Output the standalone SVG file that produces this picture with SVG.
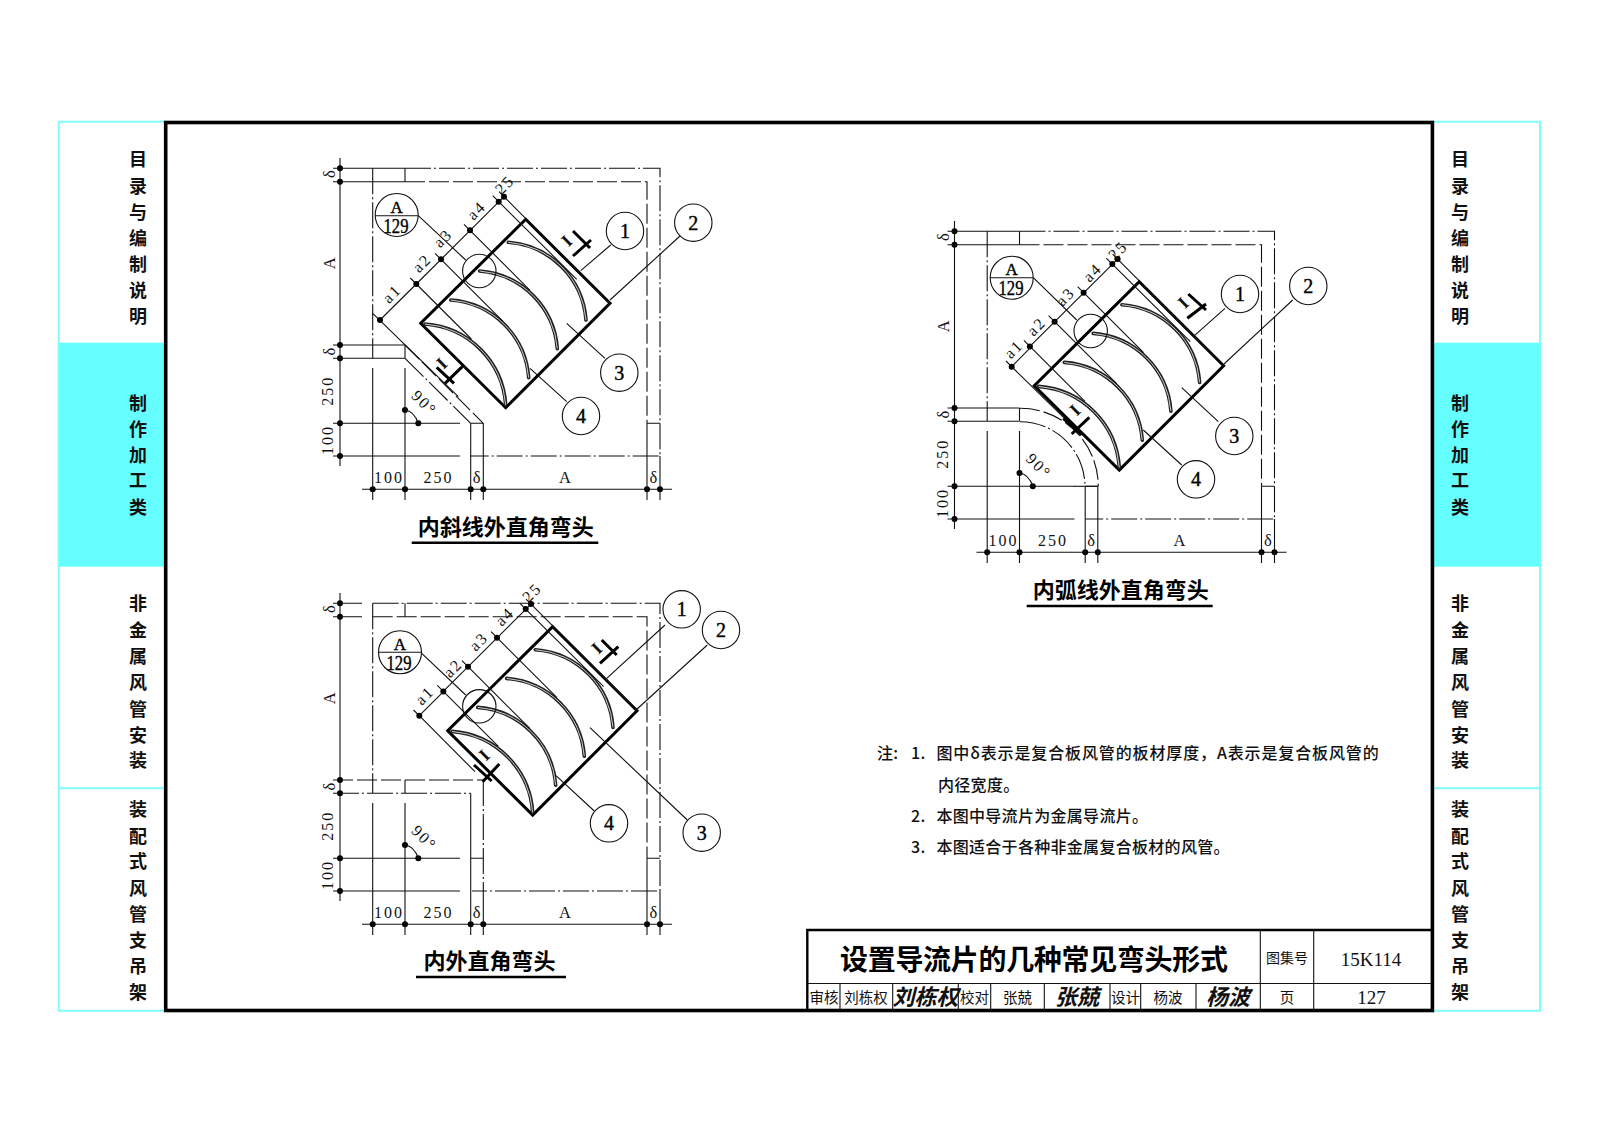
<svg xmlns="http://www.w3.org/2000/svg" xmlns:xlink="http://www.w3.org/1999/xlink" width="1600" height="1132" viewBox="0 0 1600 1132">
<style>
.s{fill:none;stroke:#111;stroke-width:1.1}
.dd{fill:none;stroke:#111;stroke-width:1.1;stroke-dasharray:26 3 2 3}
.da{fill:none;stroke:#111;stroke-width:1.1;stroke-dasharray:20 4}
.box{fill:none;stroke:#000;stroke-width:3}
.sec{fill:none;stroke:#000;stroke-width:3}
.b1{fill:none;stroke:#222;stroke-width:3.6;stroke-linecap:round}
.b2{fill:none;stroke:#ccc;stroke-width:1}
.bal{fill:#fff;stroke:#111;stroke-width:1.1}
.dot{fill:#000}
.side{font:bold 18px "Noto Sans CJK SC",sans-serif;text-anchor:middle;fill:#111}
.num{font:16px "Liberation Serif",serif;letter-spacing:2px;text-anchor:middle;fill:#111}
.sy{font:16.5px "Liberation Serif",serif;text-anchor:middle;fill:#111}
.ii{font:bold 18px "Liberation Serif",serif;text-anchor:middle;fill:#111}
.bn{font:20px "Liberation Serif",serif;text-anchor:middle;fill:#000;stroke:#000;stroke-width:.4}
.cap{font:bold 22px "Noto Sans CJK SC",sans-serif;text-anchor:middle;fill:#000}
.note{font:500 16px "Noto Sans CJK SC",sans-serif;fill:#111;letter-spacing:.3px}
.cell{font:14.5px "Noto Sans CJK SC",sans-serif;text-anchor:middle;fill:#111}
.sig{font:italic bold 22px "Noto Sans CJK SC",sans-serif;text-anchor:middle;fill:#111}
.tb{font:19px "Liberation Serif",serif;text-anchor:middle;fill:#111}
.cy{fill:none;stroke:#7ffcfc;stroke-width:2}
</style>
<defs>
<circle id="d" class="dot" r="3"/>
<g id="elbow">
<path class="box" d="M0 0L84.3 84L-20 188.4L-105 104Z"/>
<path class="b1" d="M-17.4 23A84 84 0 0 1 60.3 100.7M-46.1 51.7A84 84 0 0 1 31.6 129.4M-75 80.7A84 84 0 0 1 3 158.4M-100.7 104.7A87 87 0 0 1 -20 185.7"/>
<path class="b2" d="M-17.4 23A84 84 0 0 1 60.3 100.7M-46.1 51.7A84 84 0 0 1 31.6 129.4M-75 80.7A84 84 0 0 1 3 158.4M-100.7 104.7A87 87 0 0 1 -20 185.7"/>
<path class="s" d="M-21.7 -22.6L84.3 84M-27 -17.6L51 60M-55.7 11L4.3 71M-84.7 40L-22.7 102M-109.4 64.7L-54.4 119.7M-115.4 58.7L-109.4 64.7M-90.7 34L-84.7 40M-61.7 5L-55.7 11M-33 -23.6L-27 -17.6M-26.7 -27.6L-21.7 -22.6M-109.4 64.7L-21.7 -22.6"/>
<use xlink:href="#d" x="-109.4" y="64.7"/><use xlink:href="#d" x="-84.7" y="40"/><use xlink:href="#d" x="-55.7" y="11"/><use xlink:href="#d" x="-27" y="-17.6"/><use xlink:href="#d" x="-21.7" y="-22.6"/>
</g>
<g id="dims">
<path class="s" d="M340 158V466M362 489.3H672"/>
<use xlink:href="#d" x="340" y="168.3"/><use xlink:href="#d" x="340" y="181.7"/><use xlink:href="#d" x="340" y="345"/><use xlink:href="#d" x="340" y="358.3"/><use xlink:href="#d" x="340" y="423.3"/><use xlink:href="#d" x="340" y="456"/>
<use xlink:href="#d" x="372.7" y="489.3"/><use xlink:href="#d" x="405" y="489.3"/><use xlink:href="#d" x="470.7" y="489.3"/><use xlink:href="#d" x="483.3" y="489.3"/><use xlink:href="#d" x="647" y="489.3"/><use xlink:href="#d" x="660" y="489.3"/>
<use xlink:href="#d" x="405" y="410"/><use xlink:href="#d" x="418.3" y="423.3"/>
<path class="s" d="M405 410Q414 411 418.3 423.3"/>
</g>
<g id="ductA">
<path class="s" d="M333 168.3H405M333 181.7H405M405 168.3V181.7M333 345H405M333 358.3H405M405 345V358.3M405 368V500M372.7 368V500M333 423.3H460M333 456H460M470.7 423.3H483.3M470.7 423.3V500M483.3 423.3V500M647 423.3H660M647 423.3V500M660 456V500M372.7 345V358.3"/>
<path class="dd" d="M405 168.3H660V456H470.7M372.7 168.3V345"/>
<path class="da" d="M405 181.7H647V423.3"/>
</g>
</defs>
<rect width="1600" height="1132" fill="#fff"/>
<g id="frame">
<rect x="58.7" y="342.7" width="107" height="224" fill="#66ffff"/>
<rect x="1432.7" y="342.7" width="107.3" height="224" fill="#66ffff"/>
<path class="cy" d="M58.7 121.7H166V1010.7H58.7ZM58.7 788.3H166M1432 121.7H1540V1010.7H1432ZM1432 788.3H1540"/>
<rect x="165.7" y="122.5" width="1266.7" height="888" fill="none" stroke="#000" stroke-width="3.6"/>
</g>
<g id="side-left">
<text class="side" x="138" y="166">目</text><text class="side" x="138" y="193">录</text><text class="side" x="138" y="219">与</text><text class="side" x="138" y="245">编</text><text class="side" x="138" y="271">制</text><text class="side" x="138" y="297">说</text><text class="side" x="138" y="323">明</text>
<text class="side" x="138" y="410">制</text><text class="side" x="138" y="436">作</text><text class="side" x="138" y="462">加</text><text class="side" x="138" y="487">工</text><text class="side" x="138" y="514">类</text>
<text class="side" x="138" y="610">非</text><text class="side" x="138" y="637">金</text><text class="side" x="138" y="663">属</text><text class="side" x="138" y="689">风</text><text class="side" x="138" y="716">管</text><text class="side" x="138" y="742">安</text><text class="side" x="138" y="767">装</text>
<text class="side" x="138" y="816">装</text><text class="side" x="138" y="843">配</text><text class="side" x="138" y="868">式</text><text class="side" x="138" y="895">风</text><text class="side" x="138" y="921">管</text><text class="side" x="138" y="947">支</text><text class="side" x="138" y="973">吊</text><text class="side" x="138" y="999">架</text>
</g>
<g id="side-right">
<text class="side" x="1460" y="166">目</text><text class="side" x="1460" y="193">录</text><text class="side" x="1460" y="219">与</text><text class="side" x="1460" y="245">编</text><text class="side" x="1460" y="271">制</text><text class="side" x="1460" y="297">说</text><text class="side" x="1460" y="323">明</text>
<text class="side" x="1460" y="410">制</text><text class="side" x="1460" y="436">作</text><text class="side" x="1460" y="462">加</text><text class="side" x="1460" y="487">工</text><text class="side" x="1460" y="514">类</text>
<text class="side" x="1460" y="610">非</text><text class="side" x="1460" y="637">金</text><text class="side" x="1460" y="663">属</text><text class="side" x="1460" y="689">风</text><text class="side" x="1460" y="716">管</text><text class="side" x="1460" y="742">安</text><text class="side" x="1460" y="767">装</text>
<text class="side" x="1460" y="816">装</text><text class="side" x="1460" y="843">配</text><text class="side" x="1460" y="868">式</text><text class="side" x="1460" y="895">风</text><text class="side" x="1460" y="921">管</text><text class="side" x="1460" y="947">支</text><text class="side" x="1460" y="973">吊</text><text class="side" x="1460" y="999">架</text>
</g>

<g id="diagram1">
<use xlink:href="#dims"/><use xlink:href="#ductA"/>
<path class="da" d="M405 345L483.3 423.3"/><path class="dd" d="M405 358.3L470.7 423.3"/>
<use xlink:href="#elbow" x="525.7" y="219.3"/>
<path class="s" d="M372.7 313.3L458.3 396.7M416.3 284L380 320"/><use xlink:href="#d" x="380" y="320"/>
<path class="sec" d="M573 231L590 248M573 256L591 240M436.7 367.3L454 383.3M445 383.3L462.3 366.7"/>
<circle class="s" cx="479.3" cy="271" r="16.7"/>
<path class="s" d="M418.3 215.7L465.7 260M610.7 245L580.7 270.7M680 236L610 300M605 358.3L566.7 323.3M566.7 401.7L530 368.3"/>
<g id="d1-ref"><circle class="bal" cx="396.7" cy="215" r="21.5"/><path class="s" d="M375.2 215.7H418.2"/><text class="bn" style="font-size:17px" x="396.7" y="213">A</text><text class="bn" style="font-size:20px" x="396" y="232.5" textLength="25" lengthAdjust="spacingAndGlyphs">129</text></g>
<g id="d1-n1"><circle class="bal" cx="625" cy="231" r="18.7"/><text class="bn" x="625" y="238">1</text></g>
<g id="d1-n2"><circle class="bal" cx="693.3" cy="222.7" r="18.7"/><text class="bn" x="693.3" y="229.7">2</text></g>
<g id="d1-n3"><circle class="bal" cx="619.3" cy="372.7" r="18.7"/><text class="bn" x="619.3" y="379.7">3</text></g>
<g id="d1-n4"><circle class="bal" cx="581" cy="416" r="18.7"/><text class="bn" x="581" y="423">4</text></g>
<g class="lbl">
<text class="num" transform="translate(392.3,294) rotate(-45)" y="5">a1</text><text class="num" transform="translate(422.3,263.3) rotate(-45)" y="5">a2</text><text class="num" transform="translate(443.3,238.3) rotate(-45)" y="5">a3</text><text class="num" transform="translate(476.7,210.7) rotate(-45)" y="5">a4</text><text class="num" transform="translate(505,185) rotate(-45)" y="5">25</text>
<text class="ii" transform="translate(566.7,240.7) rotate(-45)" y="6">I</text><text class="ii" transform="translate(441.7,363.3) rotate(-45)" y="6">I</text>
<text class="num" transform="translate(424,403.3) rotate(45)" y="5">90°</text>
<text class="sy" transform="translate(331.7,174) rotate(-90)" y="3">δ</text><text class="sy" transform="translate(331.7,263.3) rotate(-90)" y="3">A</text><text class="sy" transform="translate(331.7,351.7) rotate(-90)" y="3">δ</text><text class="num" transform="translate(330,390.7) rotate(-90)" y="3">250</text><text class="num" transform="translate(330,440) rotate(-90)" y="3">100</text>
<text class="num" x="389" y="483">100</text><text class="num" x="438.5" y="483">250</text><text class="sy" x="476.7" y="483">δ</text><text class="sy" x="565" y="483">A</text><text class="sy" x="653.3" y="483">δ</text>
</g>
<text class="cap" x="505.7" y="534.5">内斜线外直角弯头</text><path d="M411.7 542.7H598.3" stroke="#000" stroke-width="2.4"/>
</g>

<g id="diagram2">
<g transform="translate(614.5,63)"><use xlink:href="#dims"/><use xlink:href="#ductA"/></g>
<path class="s" d="M1074 486.3H1098.3"/>
<path class="da" d="M1020 408.3A78 78 0 0 1 1098.3 486"/><path class="dd" d="M1020 421.7A65 65 0 0 1 1085 486"/>
<use xlink:href="#elbow" x="1139.3" y="281.7"/>
<path class="s" d="M1011.7 366.7L1073 426.7M1030.7 347.3L1011.7 366.7M1006 361L1011.7 366.7"/><use xlink:href="#d" x="1011.7" y="366.7"/>
<path class="sec" d="M1188.3 294L1206 310M1187.3 318.3L1206 304M1063.3 418.3L1081.7 435M1071.7 434L1089.3 417.3"/>
<circle class="s" cx="1090.7" cy="331" r="16.7"/>
<path class="s" d="M1033.3 277.7L1076.7 320M1225 308.3L1193.3 336.7M1292.7 300L1224 364M1218.3 421.7L1181.7 387.7M1181.7 465L1143.3 430"/>
<g id="d2-ref"><circle class="bal" cx="1011.7" cy="277.7" r="21.5"/><path class="s" d="M990.2 277.7H1033.2"/><text class="bn" style="font-size:17px" x="1011.7" y="275">A</text><text class="bn" style="font-size:20px" x="1011" y="295" textLength="25" lengthAdjust="spacingAndGlyphs">129</text></g>
<g id="d2-n1"><circle class="bal" cx="1240" cy="294" r="18.7"/><text class="bn" x="1240" y="301">1</text></g>
<g id="d2-n2"><circle class="bal" cx="1308.3" cy="286" r="18.7"/><text class="bn" x="1308.3" y="293">2</text></g>
<g id="d2-n3"><circle class="bal" cx="1234.3" cy="436" r="18.7"/><text class="bn" x="1234.3" y="443">3</text></g>
<g id="d2-n4"><circle class="bal" cx="1196" cy="479.3" r="18.7"/><text class="bn" x="1196" y="486.3">4</text></g>
<g class="lbl">
<text class="num" transform="translate(1014,349.3) rotate(-45)" y="5">a1</text><text class="num" transform="translate(1036.7,326.7) rotate(-45)" y="5">a2</text><text class="num" transform="translate(1065.7,296.7) rotate(-45)" y="5">a3</text><text class="num" transform="translate(1092.7,272.7) rotate(-45)" y="5">a4</text><text class="num" transform="translate(1118.3,250.7) rotate(-45)" y="5">25</text>
<text class="ii" transform="translate(1183.3,302.7) rotate(-45)" y="6">I</text><text class="ii" transform="translate(1075,410) rotate(-45)" y="6">I</text>
<text class="num" transform="translate(1038.5,466.3) rotate(45)" y="5">90°</text>
<text class="sy" transform="translate(946.2,237) rotate(-90)" y="3">δ</text><text class="sy" transform="translate(946.2,326.3) rotate(-90)" y="3">A</text><text class="sy" transform="translate(946.2,414.7) rotate(-90)" y="3">δ</text><text class="num" transform="translate(944.5,453.7) rotate(-90)" y="3">250</text><text class="num" transform="translate(944.5,503) rotate(-90)" y="3">100</text>
<text class="num" x="1003.5" y="546">100</text><text class="num" x="1053" y="546">250</text><text class="sy" x="1091.2" y="546">δ</text><text class="sy" x="1179.5" y="546">A</text><text class="sy" x="1267.8" y="546">δ</text>
</g>
<text class="cap" x="1120.8" y="597.8">内弧线外直角弯头</text><path d="M1026.7 606H1212.7" stroke="#000" stroke-width="2.4"/>
</g>

<g id="diagram3">
<g transform="translate(0,435)">
<use xlink:href="#dims"/>
<path class="s" d="M333 168.3H362M333 181.7H362M405 168.3V181.7M405 345V358.3M405 368V500M372.7 368V500M470.7 358.3V500M470.7 423.3H483.3M333 423.3H460M333 456H460M483.3 456V500M647 423.3H660M647 423.3V500M660 456V500"/>
<path class="dd" d="M372.7 168.3H660V456H472M372.7 168.3V358.3M333 358.3H470.7M483.3 345V456"/>
<path class="da" d="M372.7 181.7H647V423.3M333 345H483.3"/>
</g>
<use xlink:href="#elbow" x="552.7" y="626.7"/>
<path class="s" d="M419.3 715.7L475 771.7M443.7 691.3L419.3 715.7M413.5 710L419.3 715.7"/><use xlink:href="#d" x="419.3" y="715.7"/>
<path class="sec" d="M601.7 640L616.7 655M600 663.3L618.3 646.7M474 765L491.7 781M482.7 781.7L499.3 764"/>
<circle class="s" cx="479.3" cy="706.3" r="16.7"/>
<path class="s" d="M421.7 653.3L465.7 695M665 625L606.7 678.3M707.3 645L636 710M687.3 820L590 727.7M594.3 811L556 775.7"/>
<g id="d3-ref"><circle class="bal" cx="400" cy="652.3" r="21.5"/><path class="s" d="M378.5 652.3H421.5"/><text class="bn" style="font-size:17px" x="400" y="650">A</text><text class="bn" style="font-size:20px" x="399" y="670" textLength="25" lengthAdjust="spacingAndGlyphs">129</text></g>
<g id="d3-n1"><circle class="bal" cx="681.7" cy="609.3" r="18.7"/><text class="bn" x="681.7" y="616.3">1</text></g>
<g id="d3-n2"><circle class="bal" cx="721" cy="630" r="18.7"/><text class="bn" x="721" y="637">2</text></g>
<g id="d3-n3"><circle class="bal" cx="701.7" cy="832.7" r="18.7"/><text class="bn" x="701.7" y="839.7">3</text></g>
<g id="d3-n4"><circle class="bal" cx="609" cy="823.3" r="18.7"/><text class="bn" x="609" y="830.3">4</text></g>
<g class="lbl">
<text class="num" transform="translate(425,695.7) rotate(-45)" y="5">a1</text><text class="num" transform="translate(453.3,668.3) rotate(-45)" y="5">a2</text><text class="num" transform="translate(479,641.7) rotate(-45)" y="5">a3</text><text class="num" transform="translate(505,616.7) rotate(-45)" y="5">a4</text><text class="num" transform="translate(532.3,592.7) rotate(-45)" y="5">25</text>
<text class="ii" transform="translate(596.7,648.3) rotate(-45)" y="6">I</text><text class="ii" transform="translate(484.3,755) rotate(-45)" y="6">I</text>
<text class="num" transform="translate(424,838.3) rotate(45)" y="5">90°</text>
<text class="sy" transform="translate(331.7,609) rotate(-90)" y="3">δ</text><text class="sy" transform="translate(331.7,698.3) rotate(-90)" y="3">A</text><text class="sy" transform="translate(331.7,786.7) rotate(-90)" y="3">δ</text><text class="num" transform="translate(330,825.7) rotate(-90)" y="3">250</text><text class="num" transform="translate(330,875) rotate(-90)" y="3">100</text>
<text class="num" x="389" y="918">100</text><text class="num" x="438.5" y="918">250</text><text class="sy" x="476.7" y="918">δ</text><text class="sy" x="565" y="918">A</text><text class="sy" x="653.3" y="918">δ</text>
</g>
<text class="cap" x="489.6" y="969">内外直角弯头</text><path d="M416 977H566" stroke="#000" stroke-width="2.4"/>
</g>

<g id="notes">
<text class="note" x="877" y="759">注:</text><text class="note" x="911" y="759">1.</text>
<text class="note" x="936.4" y="759" textLength="442.6" lengthAdjust="spacing">图中δ表示是复合板风管的板材厚度，A表示是复合板风管的</text>
<text class="note" x="938" y="791">内径宽度。</text>
<text class="note" x="911" y="822">2.</text><text class="note" x="936.4" y="822">本图中导流片为金属导流片。</text>
<text class="note" x="911" y="853">3.</text><text class="note" x="936.4" y="853">本图适合于各种非金属复合板材的风管。</text>
</g>

<g id="title-block">
<path fill="none" stroke="#000" stroke-width="2.4" d="M807.3 1010.7V930H1432"/>
<path class="s" d="M807.3 983.5H1432M840 983.5V1010.7M892.7 983.5V1010.7M958.3 983.5V1010.7M990.7 983.5V1010.7M1044.3 983.5V1010.7M1110 983.5V1010.7M1140.7 983.5V1010.7M1196 983.5V1010.7M1260.3 930V1010.7M1313.7 930V1010.7"/>
<text x="1034" y="970" font-family="'Noto Sans CJK SC',sans-serif" font-weight="bold" font-size="28" text-anchor="middle" textLength="388" fill="#000">设置导流片的几种常见弯头形式</text>
<text class="cell" x="1287" y="963" style="font-size:14px">图集号</text>
<text class="tb" x="1371" y="966">15K114</text>
<text class="cell" x="824" y="1003">审核</text><text class="cell" x="866" y="1003">刘栋权</text>
<text class="cell" x="974.5" y="1003">校对</text><text class="cell" x="1017.5" y="1003">张兢</text>
<text class="cell" x="1125.5" y="1003">设计</text><text class="cell" x="1168" y="1003">杨波</text>
<text class="cell" x="1287" y="1003">页</text><text class="tb" x="1371.5" y="1004">127</text>
<text class="sig" x="925.5" y="1005">刘栋权</text><text class="sig" x="1077" y="1005">张兢</text><text class="sig" x="1228" y="1005">杨波</text>
</g>
</svg>
